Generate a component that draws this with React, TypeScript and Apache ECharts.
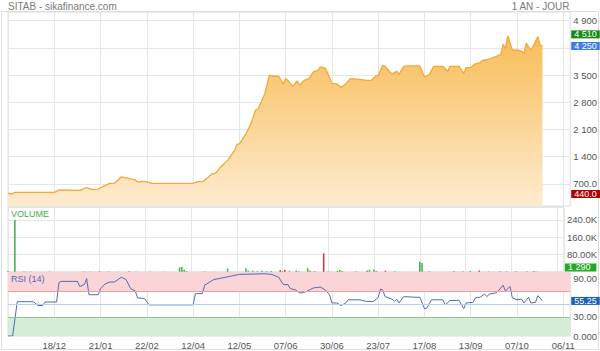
import React, { useEffect, useRef } from 'react';
import * as echarts from 'echarts';

// ---- data ----
const tickLabels = ['18/12', '21/01', '22/02', '12/04', '12/05', '07/06', '30/06', '23/07', '17/08', '13/09', '07/10', '06/11'];
const DAYS_PER_TICK = 20;
const TOTAL_DAYS = 243;

const priceDays = [0, 2, 3, 20, 22, 31, 34, 36, 39, 41, 44, 46, 49, 52, 55, 56, 58, 60, 62, 80, 82, 84, 86, 88, 90, 92, 95, 98, 99, 100, 103, 105, 107, 108, 111, 113, 115, 117, 119, 120, 121, 123, 125, 126, 128, 130, 132, 134, 135, 137, 138, 140, 142, 144, 146, 148, 152, 155, 157, 159, 160, 162, 163, 165, 166, 168, 169, 171, 173, 178, 180, 182, 184, 188, 190, 191, 195, 197, 198, 200, 202, 204, 205, 207, 209, 211, 213, 214, 215, 216, 218, 220, 222, 223, 224, 226, 227, 229, 230, 231];
const priceValues = [450, 440, 480, 480, 540, 530, 600, 555, 565, 625, 710, 715, 880, 840, 800, 745, 760, 755, 710, 710, 755, 755, 840, 950, 985, 1140, 1310, 1570, 1720, 1720, 2000, 2250, 2600, 2620, 3020, 3500, 3470, 3470, 3260, 3410, 3360, 3210, 3350, 3240, 3365, 3410, 3580, 3620, 3710, 3680, 3580, 3280, 3280, 3180, 3280, 3410, 3390, 3365, 3365, 3480, 3490, 3750, 3730, 3580, 3530, 3600, 3520, 3725, 3735, 3735, 3450, 3510, 3725, 3725, 3600, 3725, 3725, 3540, 3690, 3700, 3790, 3820, 3880, 3895, 3940, 3980, 4030, 4290, 4180, 4510, 4140, 4150, 4120, 4050, 4320, 4140, 4240, 4490, 4265, 4250];

const rsiDays = [0, 2, 4, 11, 13, 15, 16, 21, 22, 23, 30, 31, 33, 34, 35, 39, 40, 42, 44, 46, 49, 51, 53, 55, 56, 59, 61, 80, 81, 84, 85, 89, 92, 100, 111, 114, 117, 119, 121, 122, 124, 126, 127, 129, 132, 135, 137, 139, 140, 142, 144, 146, 147, 152, 155, 158, 160, 161, 162, 163, 166, 167, 168, 169, 171, 176, 178, 180, 181, 183, 188, 189, 191, 195, 197, 198, 201, 202, 204, 206, 207, 208, 211, 212, 214, 215, 217, 218, 220, 222, 223, 225, 226, 228, 229, 231];
const rsiValues = [0, 0, 54, 54, 48, 48, 53.5, 53.5, 84, 86, 86, 78, 81, 90.5, 65, 65, 74.6, 82, 85, 85, 92.5, 89, 74.6, 71, 60, 59, 49, 49, 66.7, 66.7, 80, 89, 91, 97, 98, 97, 92.5, 81, 81, 74.6, 73, 68, 68, 70, 75.7, 77, 73, 65, 52, 52, 48, 52, 57, 57, 54.4, 54.4, 60.8, 74, 72, 62, 58, 54.5, 58, 52, 62, 61, 61, 43, 44, 57, 57, 49, 56, 56, 43, 52, 53, 60, 61, 66, 62, 66, 68, 71.4, 80, 71, 78, 60, 57, 58, 52, 61, 52, 53, 63.5, 55.25];

const volDays = [0, 3, 7, 10, 18, 33, 36, 40, 44, 48, 53, 56, 62, 68, 75, 76, 77, 78, 86, 90, 96, 104, 105, 107, 109, 111, 113, 115, 119, 120, 121, 123, 126, 127, 131, 132, 134, 138, 140, 144, 145, 146, 152, 157, 158, 160, 161, 165, 169, 180, 181, 184, 195, 199, 202, 206, 210, 215, 218, 222, 227, 230, 231];
const volValues = [3000, 240000, 2000, 1500, 1000, 2000, 1500, 3000, 2000, 1000, 2500, 1500, 1000, 1000, 20000, 22000, 9000, 3000, 2000, 1500, 14000, 16000, 4000, 4000, 3000, 4000, 3000, 3000, 8000, 3000, 9000, 4000, 6000, 3000, 16000, 5000, 3000, 85000, 2000, 5000, 8000, 3000, 2000, 5000, 9000, 10000, 4000, 5000, 2000, 46000, 40000, 2000, 2000, 2000, 3000, 6000, 2000, 2000, 2000, 2000, 2000, 3000, 1290];
const volUp = [1, 1, 1, 1, 1, 1, 1, 1, 1, 1, 0, 1, 1, 1, 1, 1, 1, 1, 1, 1, 1, 1, 1, 1, 1, 1, 1, 1, 0, 1, 0, 1, 1, 1, 1, 1, 1, 0, 1, 1, 1, 1, 1, 1, 1, 1, 1, 0, 1, 1, 1, 1, 0, 1, 1, 0, 1, 1, 1, 1, 1, 1, 1];

const priceGridValues = [700, 1400, 2100, 2800, 3500, 4200, 4900];
const priceLabelValues = [700, 1400, 2100, 2800, 3500, 4900];
const highPrice = 4510;
const lastPrice = 4250;
const lowPrice = 440;
const lastVolume = 1290;
const lastRsi = 55.25;

// ---- helpers ----
const FONT = 'Arial, "Liberation Sans", sans-serif';
const group = (n: number) => Math.round(n).toString().replace(/\B(?=(\d{3})+(?!\d))/g, ' ');
const fmtNum = (v: number) => (Math.abs(v) >= 1000 ? group(v) : v.toPrecision(4));
const fmtVol = (v: number) => (v >= 1000 ? (v / 1000).toPrecision(4) + 'K' : v.toPrecision(4));

const GRID_LEFT = 8;
const GRID_RIGHT = 29.5;

export default function App() {
  const ref = useRef<HTMLDivElement>(null);

  useEffect(() => {
    if (!ref.current) return;
    const chart = echarts.init(ref.current, null, { renderer: 'svg' });

    const priceData = priceDays.map((d, i) => [d, priceValues[i]]);
    const rsiData = rsiDays.map((d, i) => [d, rsiValues[i]]);
    const volData = volDays.map((d, i) => ({
      value: [d, volValues[i]],
      itemStyle: { color: volUp[i] ? '#3fae3f' : '#d63030' },
    }));

    const xAxisBase = (gridIndex: number, showLabels: boolean) => ({
      type: 'value',
      gridIndex,
      min: 0,
      max: TOTAL_DAYS,
      interval: DAYS_PER_TICK,
      axisLine: { show: false },
      axisTick: { show: false },
      splitLine: { show: true, lineStyle: { color: '#e6e6e6', width: 1 } },
      axisLabel: {
        show: showLabels,
        color: '#555',
        fontSize: 9.5,
        fontFamily: FONT,
        margin: 4,
        showMinLabel: false,
        showMaxLabel: false,
        formatter: (v: number) => {
          if (v > 0 && v % DAYS_PER_TICK === 0) {
            const k = v / DAYS_PER_TICK - 1;
            return tickLabels[k] ?? '';
          }
          return '';
        },
      },
    });

    const boxLabel = (text: string, bg: string, extra: any = {}) => ({
      show: true,
      position: 'end',
      distance: 1,
      formatter: text,
      color: '#fff',
      backgroundColor: bg,
      fontSize: 9,
      fontFamily: FONT,
      lineHeight: 8,
      padding: [0, 3, 0, 3],
      ...extra,
    });

    const invisibleLine = { color: 'rgba(0,0,0,0)', width: 0 };

    const option: any = {
      animation: false,
      backgroundColor: '#fff',
      title: [
        { text: 'SITAB - sikafinance.com', left: 8, top: 1, padding: 0, textStyle: { fontSize: 10, color: '#7a7a7a', fontWeight: 'normal', fontFamily: FONT } },
        { text: '1 AN - JOUR', right: 30, top: 1, padding: 0, textStyle: { fontSize: 10, color: '#7a7a7a', fontWeight: 'normal', fontFamily: FONT } },
        { text: 'VOLUME', left: 11, top: 209, padding: 0, textStyle: { fontSize: 9, color: '#3fae3f', fontWeight: 'normal', fontFamily: FONT } },
        { text: 'RSI (14)', left: 11, top: 274, padding: 0, textStyle: { fontSize: 9, color: '#4b6cb7', fontWeight: 'normal', fontFamily: FONT } },
      ],
      graphic: [
        {
          type: 'rect',
          silent: true,
          z: -1,
          shape: { x: 1.5, y: 11.5, width: 597, height: 338 },
          style: { fill: 'none', stroke: '#dddddd', lineWidth: 1 },
        },
      ],
      grid: [
        { left: GRID_LEFT, right: GRID_RIGHT, top: 12, height: 194, show: true, borderColor: '#dcdcdc', borderWidth: 1 },
        { left: GRID_LEFT, right: GRID_RIGHT, top: 207, height: 64.7, show: true, borderColor: '#dcdcdc', borderWidth: 1 },
        { left: GRID_LEFT, right: GRID_RIGHT, top: 272.5, height: 63.5, show: true, borderColor: '#dcdcdc', borderWidth: 1 },
      ],
      xAxis: [xAxisBase(0, false), xAxisBase(1, false), xAxisBase(2, true)],
      yAxis: [
        {
          type: 'value',
          gridIndex: 0,
          position: 'right',
          min: 128,
          max: 5125,
          axisLine: { show: false },
          axisTick: { show: false, customValues: priceGridValues },
          splitLine: { show: true, lineStyle: { color: '#e6e6e6' } },
          axisLabel: {
            customValues: priceLabelValues,
            color: '#555',
            fontSize: 9.5,
            fontFamily: FONT,
            margin: 3,
            formatter: (v: number) => fmtNum(v),
          },
        },
        {
          type: 'value',
          gridIndex: 1,
          position: 'right',
          min: 0,
          max: 300000,
          interval: 80000,
          axisLine: { show: false },
          axisTick: { show: false },
          splitLine: { show: true, lineStyle: { color: '#e6e6e6' } },
          axisLabel: {
            color: '#555',
            fontSize: 9.5,
            fontFamily: FONT,
            margin: 3,
            showMinLabel: false,
            showMaxLabel: false,
            formatter: (v: number) => (v > 0 && v % 80000 === 0 ? fmtVol(v) : ''),
          },
        },
        {
          type: 'value',
          gridIndex: 2,
          position: 'right',
          min: 0,
          max: 100,
          interval: 30,
          axisLine: { show: false },
          axisTick: { show: false },
          splitLine: { show: false },
          axisLabel: {
            color: '#555',
            fontSize: 9.5,
            fontFamily: FONT,
            margin: 3,
            showMaxLabel: false,
            formatter: (v: number) => (v === 0 || v === 30 || v === 90 ? fmtNum(v) : ''),
          },
        },
      ],
      series: [
        {
          type: 'line',
          name: 'price',
          xAxisIndex: 0,
          yAxisIndex: 0,
          data: priceData,
          showSymbol: false,
          symbol: 'none',
          lineStyle: { color: '#f2a83a', width: 1.3 },
          areaStyle: {
            color: new echarts.graphic.LinearGradient(0, 0, 0, 1, [
              { offset: 0, color: '#f8bd58' },
              { offset: 1, color: '#fdebd0' },
            ]),
            opacity: 1,
          },
          markLine: {
            silent: true,
            symbol: ['none', 'none'],
            lineStyle: invisibleLine,
            data: [
              { yAxis: highPrice, label: boxLabel(fmtNum(highPrice), '#178a17', { offset: [0, -1.5] }) },
              { yAxis: lastPrice, label: boxLabel(fmtNum(lastPrice), '#3b7de0') },
              { yAxis: lowPrice, label: boxLabel(lowPrice.toPrecision(4), '#b00000', { padding: [0, 7, 0, 3] }) },
            ],
          },
        },
        {
          type: 'bar',
          name: 'volume',
          xAxisIndex: 1,
          yAxisIndex: 1,
          data: volData,
          barWidth: 1.5,
          markLine: {
            silent: true,
            symbol: ['none', 'none'],
            lineStyle: invisibleLine,
            data: [
              { yAxis: lastVolume, label: boxLabel(fmtNum(lastVolume), '#22a822', { offset: [0, -4], padding: [0, 6, 0, 3] }) },
            ],
          },
        },
        {
          type: 'line',
          name: 'rsi',
          xAxisIndex: 2,
          yAxisIndex: 2,
          data: rsiData,
          showSymbol: false,
          symbol: 'none',
          lineStyle: { color: '#4b6fb5', width: 1 },
          markArea: {
            silent: true,
            data: [
              [{ yAxis: 70, itemStyle: { color: '#fad4d7' } }, { yAxis: 100 }],
              [{ yAxis: 0, itemStyle: { color: '#d6ecd6' } }, { yAxis: 30 }],
            ],
          },
          markLine: {
            silent: true,
            symbol: ['none', 'none'],
            label: { show: false },
            data: [
              { yAxis: 70, lineStyle: { color: '#eca0a4', width: 1, type: 'solid' } },
              { yAxis: 50, lineStyle: { color: '#b4d0ec', width: 1, type: 'solid' } },
              { yAxis: 30, lineStyle: { color: '#90c890', width: 1, type: 'solid' } },
              { yAxis: lastRsi, lineStyle: invisibleLine, label: boxLabel(fmtNum(lastRsi), '#1a5fb8') },
            ],
          },
        },
      ],
    };

    chart.setOption(option);
    return () => chart.dispose();
  }, []);

  return (
    <div
      ref={ref}
      style={{ position: 'fixed', left: 0, top: 0, width: 600, height: 351, background: '#fff' }}
    />
  );
}
